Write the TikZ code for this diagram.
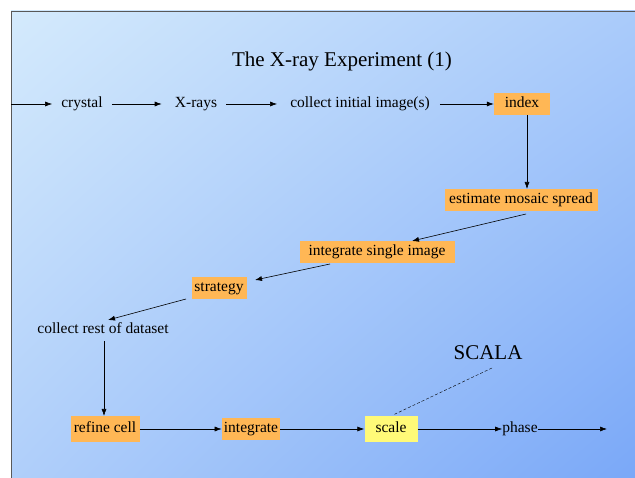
\documentclass[tikz,border=0pt]{standalone}
\usepackage{fontspec}
\setmainfont{Liberation Serif}
\usetikzlibrary{arrows.meta,shadings}
\definecolor{bgtl}{HTML}{D4EAFC}
\definecolor{bgtr}{HTML}{AACBFA}
\definecolor{bgbl}{HTML}{B0CFFA}
\definecolor{bgbr}{HTML}{7AA8F8}
\definecolor{boxorange}{HTML}{FFB755}
\definecolor{boxyellow}{HTML}{FFFA78}
\tikzset{
  lab/.style={font=\fontsize{15.5}{18}\selectfont, inner sep=0pt, text height=0.9em, text depth=0.19em},
  obox/.style={lab, fill=boxorange, inner xsep=2pt, minimum height=22pt},
  ybox/.style={lab, fill=boxyellow, minimum height=25pt, minimum width=53pt},
  big/.style={font=\fontsize{21}{24}\selectfont},
  flow/.style={-{Latex[length=7pt,width=5pt]}, semithick}
}
\begin{document}
\begin{tikzpicture}[x=1pt,y=-1pt]
\useasboundingbox (0,0) rectangle (635,478);
\shade[upper left=bgtl, upper right=bgtr, lower left=bgbl, lower right=bgbr] (11,11) rectangle (635,478);
\draw[gray!70!black, thick] (11,478) -- (11,11) -- (635,11);

\node[big] (0) at (342,61) {The X-ray Experiment (1)};

\coordinate (s) at (11,104);
\node[lab] (1) at (82,104) {crystal};
\node[lab] (2) at (196,104) {X-rays};
\node[lab] (3) at (360,104) {collect initial image(s)};
\node[obox, minimum width=56pt] (4) at (522,104) {index};
\node[obox, minimum width=153pt] (5) at (521,200) {estimate mosaic spread};
\node[obox, minimum width=155pt] (6) at (377,252) {integrate single image};
\node[obox, minimum width=55pt] (7) at (219,288) {strategy};
\node[lab] (8) at (103,330) {collect rest of dataset};
\node[obox, minimum height=25pt, minimum width=69pt] (9) at (105,429) {refine cell};
\node[obox, minimum width=58pt] (10) at (251,429) {integrate};
\node[ybox] (11) at (391,429) {scale};
\node[lab] (12) at (520,429) {phase};
\coordinate (e) at (607,429);
\node[big] (13) at (488,353) {SCALA};

\draw[flow] (s) -- ([xshift=-9pt]1.west);
\draw[flow] ([xshift=9pt]1.east) -- ([xshift=-13pt]2.west);
\draw[flow] ([xshift=9pt]2.east) -- ([xshift=-13pt]3.west);
\draw[flow] ([xshift=10pt]3.east) -- (4.west);
\draw[flow] (527,115) -- (527,189);
\draw[flow] (526,214) -- (412,241);
\draw[flow] (330,264) -- (255,280);
\draw[flow] (186,299) -- (108,320);
\draw[flow] (104,341) -- (104,416);
\draw[flow] (9.east) -- (10.west);
\draw[flow] (10.east) -- (11.west);
\draw[flow] (11.east) -- (12.west);
\draw[flow] (12.east) -- (e);
\draw[densely dashed] (492,368) -- (393,415);
\end{tikzpicture}
\end{document}
